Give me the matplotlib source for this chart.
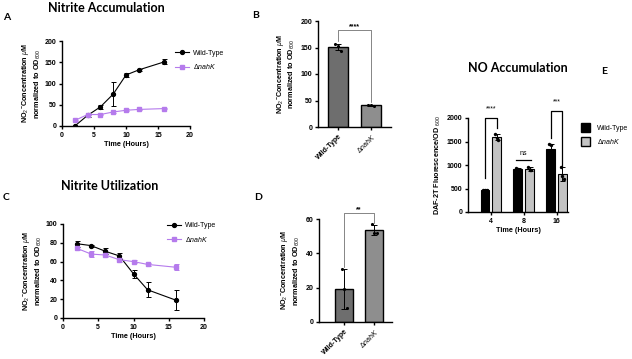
import numpy as np
import matplotlib
matplotlib.use("Agg")
import matplotlib.pyplot as plt
from matplotlib.lines import Line2D
from matplotlib.patches import Patch

plt.rcParams['font.family'] = ['Liberation Sans', 'DejaVu Sans']
plt.rcParams['mathtext.fontset'] = 'custom'
plt.rcParams['mathtext.rm'] = 'Liberation Sans'
plt.rcParams['mathtext.it'] = 'Liberation Sans:italic'
plt.rcParams['mathtext.bf'] = 'Liberation Sans:bold'

# --- data ---
time_acc = [2, 4, 6, 8, 10, 12, 16]
wt_acc = [0, 25, 45, 75, 120, 132, 151]
wt_acc_err = [1, 4, 5, 28, 5, 2, 6]
mut_acc = [13, 27, 27, 33, 37, 39, 41]
mut_acc_err = [1, 2, 2, 2, 2, 1, 2]

time_use = [2, 4, 6, 8, 10, 12, 16]
wt_use = [79, 77, 71, 66, 47, 30, 19]
wt_use_err = [3, 1, 3, 3, 4, 8, 11]
mut_use = [74, 68, 67, 62, 60, 57, 54]
mut_use_err = [2, 3, 2, 2, 2, 2, 3]

b_means = [151, 41]
b_err = [6, 1]
b_points = [[157, 153, 144], [42, 41, 40]]

d_means = [19.3, 53.5]
d_err = [11.5, 3]
d_points = [[31, 19, 8], [57, 52, 52]]

e_times = ['4', '8', '16']
e_wt = [470, 910, 1330]
e_wt_err = [10, 25, 110]
e_mut = [1590, 915, 810]
e_mut_err = [60, 40, 140]
e_wt_points = [[475, 470, 465], [930, 905, 895], [1450, 1430, 1110]]
e_mut_points = [[1670, 1570, 1540], [960, 900, 890], [960, 760, 700]]

W, H = 632, 359
fig = plt.figure(figsize=(W / 100, H / 100), dpi=100)

def px(l, t, r, b):
    return [l / W, 1 - b / H, (r - l) / W, (b - t) / H]

purple = '#b57bec'
mut_label = r'$\Delta\it{nahK}$'
ylab = r'NO$_2$$^{\bf{-}}$Concentration $\mu$M' + '\n' + r'normalized to OD$_{600}$'
fs_tick = 5.0
fs_lab = 5.2
fs_leg = 5.0

def style(ax):
    for s in ['top', 'right']:
        ax.spines[s].set_visible(False)
    for s in ['left', 'bottom']:
        ax.spines[s].set_linewidth(1.0)
    ax.tick_params(labelsize=fs_tick, width=1.0, length=2.5, pad=1.5)
    for t in ax.get_xticklabels() + ax.get_yticklabels():
        t.set_fontweight('bold')

def title(x, y, s):
    fig.text(x / W, 1 - y / H, s, ha='center', va='center', fontsize=9,
             fontweight='bold', family='Lato')

def letter(x, y, s):
    fig.text(x / W, 1 - y / H, s, ha='left', va='center', fontsize=7.5,
             fontweight='bold', family='Lato')

def line_panel(ax, t, wt, wte, mt, mte, ymax, yticks, leg_anchor):
    ax.errorbar(t, wt, yerr=wte, color='black', marker='o', ms=2.8, lw=0.8,
                elinewidth=0.7, capsize=1.8, capthick=0.7, label='Wild-Type')
    ax.errorbar(t, mt, yerr=mte, color=purple, marker='s', ms=2.8, lw=0.8,
                elinewidth=0.7, capsize=1.8, capthick=0.7, label=mut_label)
    ax.set_xlim(0, 20)
    ax.set_ylim(0, ymax)
    ax.set_xticks([0, 5, 10, 15, 20])
    ax.set_yticks(yticks)
    ax.set_xlabel('Time (Hours)', fontsize=fs_lab, fontweight='bold', labelpad=1.5)
    ax.set_ylabel(ylab, fontsize=fs_lab, fontweight='bold', labelpad=1.5)
    style(ax)
    h = [Line2D([], [], color='black', marker='o', ms=2.8, lw=0.8),
         Line2D([], [], color=purple, marker='s', ms=2.8, lw=0.8)]
    ax.legend(h, ['Wild-Type', mut_label], loc='upper left', bbox_to_anchor=leg_anchor,
              frameon=False, fontsize=fs_leg, handlelength=2.0, handletextpad=0.6,
              labelspacing=0.8, borderaxespad=0)

def bar_panel(ax, means, err, pts, ymax, yticks, sig, sig_y, leg_l, leg_r, xl):
    x = np.arange(2)
    ax.bar(x, means, width=0.6, color=['#6e6e6e', '#8e8e8e'], edgecolor='black',
           linewidth=1.0, zorder=2)
    ax.errorbar(x, means, yerr=err, fmt='none', ecolor='black', elinewidth=0.7,
                capsize=2.5, capthick=0.7, zorder=3)
    offs = [-0.08, 0.0, 0.08]
    for i in range(2):
        ax.scatter(x[i] + np.array(offs), pts[i], s=5, color='black', zorder=4,
                   linewidths=0)
    ax.plot([0, 0, 1, 1], [leg_l, sig_y, sig_y, leg_r], color='#555555', lw=0.5,
            clip_on=False)
    ax.text(0.5, sig_y, sig, ha='center', va='bottom', fontsize=5, fontweight='bold')
    ax.set_xlim(*xl)
    ax.set_ylim(0, ymax)
    ax.set_yticks(yticks)
    ax.set_xticks(x)
    ax.set_xticklabels(['Wild-Type', mut_label], rotation=45, ha='right',
                       rotation_mode='anchor')
    ax.set_ylabel(ylab, fontsize=fs_lab, fontweight='bold', labelpad=2.5)
    style(ax)

# A
axA = fig.add_axes(px(62, 41, 190, 126))
line_panel(axA, time_acc, wt_acc, wt_acc_err, mut_acc, mut_acc_err, 200,
           [0, 50, 100, 150, 200], (0.86, 0.93))
title(106, 8, 'Nitrite Accumulation')
letter(3, 18, 'A')

# C
axC = fig.add_axes(px(63, 224, 204, 318))
line_panel(axC, time_use, wt_use, wt_use_err, mut_use, mut_use_err, 100,
           [0, 20, 40, 60, 80, 100], (0.72, 1.05))
title(110, 186, 'Nitrite Utilization')
letter(3, 198, 'C')

# B
axB = fig.add_axes(px(318, 21, 391, 127))
bar_panel(axB, b_means, b_err, b_points, 200, [0, 50, 100, 150, 200], '****', 183,
          163, 47, (-0.6, 1.6))
letter(252, 16, 'B')

# D
axD = fig.add_axes(px(319, 219, 392, 322))
bar_panel(axD, d_means, d_err, d_points, 60, [0, 20, 40, 60], '**', 63.5,
          32, 57.5, (-0.85, 1.6))
letter(254, 197, 'D')

# E
axE = fig.add_axes(px(468, 118, 568, 212))
xe = np.arange(3)
bw = 0.27
off = 0.18
axE.bar(xe - off, e_wt, width=bw, color='black', edgecolor='black', linewidth=0.8, zorder=2)
axE.bar(xe + off, e_mut, width=bw, color='#c3c3c3', edgecolor='black', linewidth=0.8, zorder=2)
axE.errorbar(xe - off, e_wt, yerr=e_wt_err, fmt='none', ecolor='black', elinewidth=0.7,
             capsize=1.8, capthick=0.7, zorder=3)
axE.errorbar(xe + off, e_mut, yerr=e_mut_err, fmt='none', ecolor='black', elinewidth=0.7,
             capsize=1.8, capthick=0.7, zorder=3)
poff = np.array([-0.05, 0.0, 0.05])
for i in range(3):
    axE.scatter(xe[i] - off + poff, e_wt_points[i], s=6, color='black', zorder=4, linewidths=0)
    axE.scatter(xe[i] + off + poff, e_mut_points[i], s=6, color='black', zorder=4, linewidths=0)
# significance marks
axE.plot([-off, -off, off, off], [720, 2000, 2000, 1790], color='black', lw=0.9, clip_on=False)
axE.text(0, 2120, '****', ha='center', va='bottom', fontsize=5)
axE.plot([1 - off - 0.05, 1 + off + 0.05], [1100, 1100], color='black', lw=0.9)
axE.text(1, 1180, 'ns', ha='center', va='bottom', fontsize=5)
axE.plot([2 - off, 2 - off, 2 + off, 2 + off], [1570, 2140, 2140, 960], color='black',
         lw=0.9, clip_on=False)
axE.text(2, 2260, '***', ha='center', va='bottom', fontsize=5)
axE.set_xlim(-0.7, 2.35)
axE.set_ylim(0, 2000)
axE.set_yticks([0, 500, 1000, 1500, 2000])
axE.set_xticks(xe)
axE.set_xticklabels(e_times)
axE.set_xlabel('Time (Hours)', fontsize=fs_lab, fontweight='bold', labelpad=1.5)
axE.set_ylabel(r'DAF-2T Fluorescence/OD $_{600}$', fontsize=fs_lab, fontweight='bold', labelpad=2.5)
style(axE)
hE = [Patch(facecolor='black', edgecolor='black'),
      Patch(facecolor='#c3c3c3', edgecolor='black')]
axE.legend(hE, ['Wild-Type', mut_label], loc='upper left', bbox_to_anchor=(1.1, 0.98),
           frameon=False, fontsize=fs_leg, handlelength=1.3, handleheight=1.7,
           handletextpad=1.0, labelspacing=0.7, borderaxespad=0)
title(518, 68, 'NO Accumulation')
letter(601, 71, 'E')

fig.savefig('out.png', dpi=100)
